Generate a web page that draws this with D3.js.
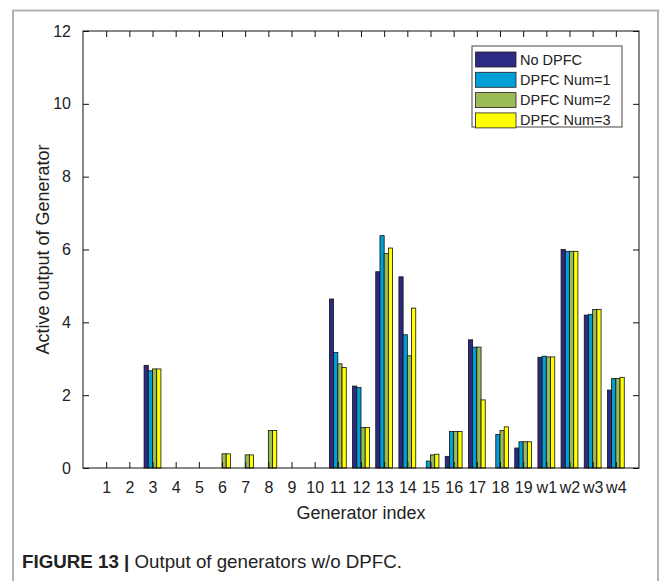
<!DOCTYPE html>
<html>
<head>
<meta charset="utf-8">
<script src="https://cdn.jsdelivr.net/npm/d3@7"></script>
<style>
  html, body { margin: 0; padding: 0; background: #fff; }
  svg { display: block; }
  text { font-family: "Liberation Sans", Arial, sans-serif; fill: #222; }
</style>
</head>
<body>
<svg id="chart" width="664" height="581"></svg>
<script>
const categories = ["1","2","3","4","5","6","7","8","9","10","11","12","13","14","15","16","17","18","19","w1","w2","w3","w4"];
const seriesNames = ["No DPFC", "DPFC Num=1", "DPFC Num=2", "DPFC Num=3"];
const noDPFC  = [0,0,2.82,0,0,0,0,0,0,0,4.64,2.25,5.39,5.25,0,0.32,3.52,0,0.55,3.04,6.00,4.20,2.14];
const dpfc1   = [0,0,2.67,0,0,0,0,0,0,0,3.17,2.21,6.38,3.66,0.19,1.00,3.32,0.92,0.72,3.07,5.95,4.22,2.46];
const dpfc2   = [0,0,2.72,0,0,0.39,0.36,1.03,0,0,2.86,1.11,5.89,3.08,0.36,1.00,3.32,1.03,0.72,3.05,5.95,4.35,2.46];
const dpfc3   = [0,0,2.72,0,0,0.39,0.36,1.03,0,0,2.76,1.11,6.04,4.39,0.38,1.00,1.87,1.13,0.72,3.05,5.95,4.35,2.49];
const seriesValues = [noDPFC, dpfc1, dpfc2, dpfc3];
const yTicks = [0,2,4,6,8,10,12];
const colors = ["#2d2a84", "#009fd6", "#9bbb59", "#ffff00"];

const svg = d3.select("#chart");

// figure frame
svg.append("path")
  .attr("d", "M13,581 L13,10.5 L658,10.5 L658,581")
  .attr("fill", "none").attr("stroke", "#b4b4b4").attr("stroke-width", 2);

const L = 83, R = 639, T = 31, B = 468;

const x = d3.scalePoint().domain(categories).range([L, R]).padding(1);
const step = x.step();
const groupW = step * 0.727;
const xInner = d3.scaleBand().domain(d3.range(seriesNames.length)).range([-groupW/2, groupW/2]).padding(0);
const y = d3.scaleLinear().domain([0, 12]).range([B, T]);

const g = svg.append("g");

// bars
seriesValues.forEach((vals, si) => {
  g.append("g").selectAll("rect").data(vals).join("rect")
    .attr("x", (d, i) => x(categories[i]) + xInner(si))
    .attr("width", xInner.bandwidth())
    .attr("y", d => y(d))
    .attr("height", d => y(0) - y(d))
    .attr("fill", colors[si])
    .attr("stroke", "#111")
    .attr("stroke-width", 0.8);
});

// axes
const tickLen = 6;
const xb = d3.axisBottom(x).tickSize(-tickLen).tickPadding(14);
const xt = d3.axisTop(x).tickSize(-tickLen).tickFormat("");
const yl = d3.axisLeft(y).tickValues(yTicks).tickSize(-tickLen).tickPadding(12);
const yr = d3.axisRight(y).tickValues(yTicks).tickSize(-tickLen).tickFormat("");

function style(sel) {
  sel.select(".domain").attr("stroke", "#111").attr("stroke-width", 1);
  sel.selectAll(".tick line").attr("stroke", "#111").attr("stroke-width", 1);
  sel.selectAll(".tick text").attr("fill", "#222").style("font-size", "16px")
     .style("font-family", '"Liberation Sans", Arial, sans-serif');
}

svg.append("g").attr("transform", `translate(0,${B})`).call(xb).call(style);
svg.append("g").attr("transform", `translate(0,${T})`).call(xt).call(style);
svg.append("g").attr("transform", `translate(${L},0)`).call(yl).call(style);
svg.append("g").attr("transform", `translate(${R},0)`).call(yr).call(style);
svg.selectAll(".domain").attr("d", null);
svg.append("rect").attr("x", L).attr("y", T).attr("width", R - L).attr("height", B - T)
  .attr("fill", "none").attr("stroke", "#111").attr("stroke-width", 1);

// axis labels
svg.append("text").attr("x", (L + R) / 2).attr("y", 519).attr("text-anchor", "middle")
  .style("font-size", "18px").text("Generator index");
svg.append("text").attr("transform", `translate(49,${(T + B) / 2}) rotate(-90)`)
  .attr("text-anchor", "middle").style("font-size", "18px").text("Active output of Generator");

// legend
const lg = svg.append("g");
lg.append("rect").attr("x", 472).attr("y", 46).attr("width", 150).attr("height", 81)
  .attr("fill", "#fff").attr("stroke", "#444").attr("stroke-width", 1);
seriesNames.forEach((name, i) => {
  const yy = 52 + i * 20.3;
  lg.append("rect").attr("x", 475.5).attr("y", yy).attr("width", 40.5).attr("height", 15)
    .attr("fill", colors[i]).attr("stroke", "#222").attr("stroke-width", 0.8);
  lg.append("text").attr("x", 520).attr("y", yy + 12.5).style("font-size", "14.5px").text(name);
});

// caption
const cap = svg.append("text").attr("x", 22).attr("y", 568).style("font-size", "18.5px")
  .attr("textLength", 380).attr("lengthAdjust", "spacingAndGlyphs");
cap.append("tspan").style("font-weight", "bold").text("FIGURE 13 | ");
cap.append("tspan").text("Output of generators w/o DPFC.");
</script>
</body>
</html>
